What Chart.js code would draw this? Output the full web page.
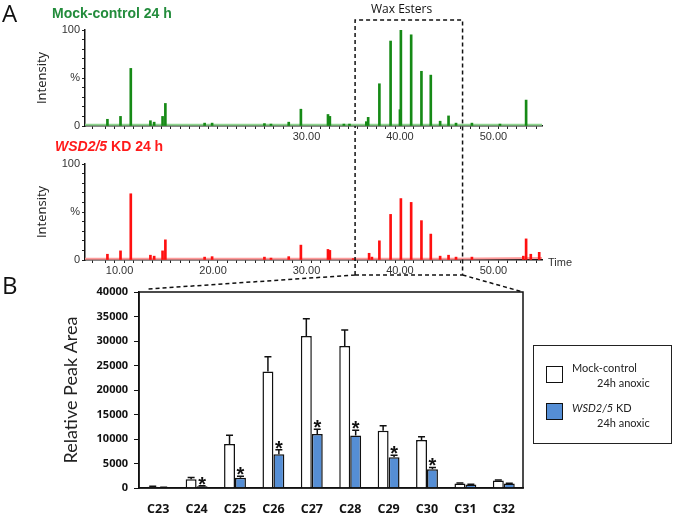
<!DOCTYPE html>
<html>
<head>
<meta charset="utf-8">
<script src="https://cdn.jsdelivr.net/npm/chart.js@4.4.0/dist/chart.umd.min.js"></script>
<style>
body { margin: 0; background: #fff; width: 675px; height: 514px; position: relative; overflow: hidden; font-family: 'Open Sans', sans-serif; color: #111; }
canvas { position: absolute; left: 0; }
.txt { position: absolute; white-space: nowrap; line-height: 1; }
#legend { position: absolute; left: 533px; top: 345px; width: 139px; height: 99px; box-sizing: border-box; border: 1.5px solid #222; font-family: Lato, sans-serif; font-size: 11px; color: #222; }
#legend .sq { position: absolute; left: 12px; width: 17px; height: 17px; box-sizing: border-box; border: 1.5px solid #111; }
</style>
</head>
<body>
<canvas id="chromKD" width="675" height="300" style="top:0"></canvas>
<canvas id="chromMock" width="675" height="150" style="top:0"></canvas>
<canvas id="bars" width="675" height="244" style="top:270px"></canvas>

<div class="txt" style="left:2px;top:1px;font-size:24px">A</div>
<div class="txt" style="left:52px;top:5px;font:bold 14px 'Liberation Sans';color:#238c3c">Mock-control 24 h</div>
<div class="txt" style="left:55px;top:138px;font:bold 14px 'Liberation Sans';color:#ff1a1a"><i>WSD2/5</i> KD 24 h</div>
<div class="txt" style="left:371px;top:3px;font-size:12px">Wax Esters</div>
<div class="txt" style="left:548px;top:256px;font:11px 'Liberation Sans';color:#333">Time</div>
<div class="txt" style="left:2px;top:273px;font-size:24px">B</div>

<div id="legend">
  <div class="sq" style="top:20px;background:#fff"></div>
  <div class="txt" style="left:38px;top:16px">Mock-control</div>
  <div class="txt" style="left:63px;top:31px">24h anoxic</div>
  <div class="sq" style="top:57px;background:#558ed5"></div>
  <div class="txt" style="left:38px;top:56px"><i>WSD2/5</i> KD</div>
  <div class="txt" style="left:63px;top:71px">24h anoxic</div>
</div>

<script>
// chromatograms: retention time (min) and relative intensity (%)
const mockTimes = [8.7, 10.1, 11.2, 13.3, 13.7, 14.6, 14.9, 19.1, 19.9, 25.5, 26.2, 28.1, 29.4, 32.3, 32.5, 34.0, 34.6, 36.4, 36.6, 37.8, 39.0, 40.0, 40.1, 41.2, 42.3, 43.3, 44.3, 45.2, 46.0, 47.7, 50.7, 53.5];
const mockHeights = [7, 10, 60, 5.5, 4, 10, 23.5, 3, 3, 2.5, 2, 4, 17.5, 12, 10, 2, 2, 4.5, 9, 44, 88.5, 17, 100, 95, 57, 53, 5, 10.5, 3, 3, 2, 27];
const kdTimes = [8.7, 10.1, 11.2, 13.3, 13.7, 14.6, 14.9, 19.1, 19.9, 25.5, 26.2, 28.1, 29.4, 32.3, 32.5, 35.0, 36.7, 37.0, 37.8, 39.0, 40.1, 41.2, 42.3, 43.3, 44.3, 45.2, 46.0, 47.7, 53.2, 53.5, 54.0, 54.9];
const kdHeights = [6, 9.5, 69, 5, 4, 9.5, 21, 3, 3.5, 3, 2, 3.5, 15.5, 11, 10, 1.5, 7, 3, 20, 47.5, 64, 60, 41, 27, 4, 5, 3, 3, 4, 22, 6, 8];
const mockBaseTimes = [6.3, 55.2];
const mockBaseLevels = [1.2, 1.2];
const kdBaseTimes = [6.3, 45, 55.2];
const kdBaseLevels = [1.2, 1.2, 2.2];
const timeMin = 6.3, timeMax = 55.2;
const waxStart = 35.2, waxEnd = 46.7;

// panel B: wax ester chain lengths
const chains = ['C23', 'C24', 'C25', 'C26', 'C27', 'C28', 'C29', 'C30', 'C31', 'C32'];
const mockArea = [250, 1800, 9000, 23800, 31000, 29000, 11700, 9800, 900, 1550];
const mockErr = [100, 350, 1750, 3000, 3550, 3250, 1000, 650, 100, 80];
const kdArea = [100, 350, 2100, 6900, 11000, 10700, 6300, 3850, 700, 900];
const kdErr = [50, 100, 300, 900, 1000, 1100, 400, 350, 60, 60];
const significant = [false, true, true, true, true, true, true, true, false, false];

const toPoints = (xs, ys) => xs.map((x, i) => ({ x: x, y: ys[i] }));

function chromOptions(padTop, xHeight, showLabel) {
  return {
    responsive: false,
    animation: false,
    layout: { padding: { left: 34, top: padTop, right: 133, bottom: 0 } },
    plugins: { legend: { display: false }, tooltip: { enabled: false } },
    scales: {
      x: {
        type: 'linear', min: timeMin, max: timeMax, offset: false,
        afterFit: s => { s.height = xHeight; },
        border: { color: '#111', width: 1.5 },
        grid: { drawOnChartArea: false, tickLength: 3, color: '#222' },
        ticks: {
          stepSize: 1, autoSkip: false, maxRotation: 0, padding: 1,
          color: '#333', font: { family: 'Liberation Sans', size: 11 },
          callback: v => (v % 10 === 0 && showLabel(v)) ? v.toFixed(2) : ''
        }
      },
      y: {
        min: 0, max: 100,
        afterFit: s => { s.width = 51; },
        border: { color: '#111', width: 1.5 },
        grid: { drawOnChartArea: false, tickLength: 3, color: '#222' },
        title: { display: true, text: 'Intensity', color: '#222', font: { family: 'Open Sans', size: 13 }, padding: 0 },
        ticks: {
          stepSize: 10, autoSkip: false, padding: 2,
          color: '#333', font: { family: 'Liberation Sans', size: 11 },
          callback: v => v === 100 ? '100' : v === 50 ? '%' : v === 0 ? '0' : ''
        }
      }
    }
  };
}

const waxBox = {
  id: 'waxBox',
  afterDraw(chart) {
    const ctx = chart.ctx;
    const xs = chart.scales.x;
    const l = xs.getPixelForValue(waxStart);
    const r = xs.getPixelForValue(waxEnd);
    ctx.save();
    ctx.setLineDash([4, 3]);
    ctx.lineWidth = 1.5;
    ctx.strokeStyle = '#111';
    ctx.beginPath();
    ctx.moveTo(l, 275); ctx.lineTo(l, 20); ctx.lineTo(r, 20); ctx.lineTo(r, 275); ctx.lineTo(l, 275);
    ctx.moveTo(l, 275); ctx.lineTo(148, 289);
    ctx.moveTo(r, 275); ctx.lineTo(523, 292);
    ctx.stroke();
    ctx.restore();
  }
};

new Chart(document.getElementById('chromMock'), {
  type: 'bar',
  data: {
    datasets: [
      { data: toPoints(mockTimes, mockHeights), backgroundColor: '#168a16', barThickness: 2 },
      { type: 'line', data: toPoints(mockBaseTimes, mockBaseLevels), borderColor: '#8fd48f', borderWidth: 2, pointRadius: 0 }
    ]
  },
  options: chromOptions(30, 24, v => v >= 30)
});

new Chart(document.getElementById('chromKD'), {
  type: 'bar',
  data: {
    datasets: [
      { data: toPoints(kdTimes, kdHeights), backgroundColor: '#ff1010', barThickness: 2 },
      { type: 'line', data: toPoints(kdBaseTimes, kdBaseLevels), borderColor: '#ff9a9a', borderWidth: 2, pointRadius: 0 }
    ]
  },
  options: chromOptions(164, 40, v => true),
  plugins: [waxBox]
});

const errorBars = {
  id: 'errorBars',
  afterDatasetsDraw(chart) {
    const ctx = chart.ctx;
    const y = chart.scales.y;
    const area = chart.chartArea;
    ctx.save();
    ctx.strokeStyle = '#111';
    ctx.lineWidth = 1.5;
    chart.data.datasets.forEach((ds, di) => {
      chart.getDatasetMeta(di).data.forEach((bar, i) => {
        const top = y.getPixelForValue(ds.data[i] + ds.errors[i]);
        ctx.beginPath();
        ctx.moveTo(bar.x, bar.y);
        ctx.lineTo(bar.x, top);
        ctx.moveTo(bar.x - 3.5, top);
        ctx.lineTo(bar.x + 3.5, top);
        ctx.stroke();
        if (ds.stars && ds.stars[i]) {
          ctx.fillStyle = '#111';
          ctx.font = 'bold 20px "Liberation Sans"';
          ctx.textAlign = 'center';
          ctx.textBaseline = 'alphabetic';
          ctx.fillText('*', bar.x, top + 5);
        }
      });
    });
    // frame round the plot
    ctx.strokeRect(area.left, area.top, area.right - area.left, area.bottom - area.top);
    ctx.restore();
  }
};

new Chart(document.getElementById('bars'), {
  type: 'bar',
  data: {
    labels: chains,
    datasets: [
      { label: 'Mock-control 24h anoxic', data: mockArea, errors: mockErr, backgroundColor: '#ffffff', borderColor: '#111', borderWidth: 1.5, categoryPercentage: 0.57, barPercentage: 1 },
      { label: 'WSD2/5 KD 24h anoxic', data: kdArea, errors: kdErr, stars: significant, backgroundColor: '#558ed5', borderColor: '#111', borderWidth: 1.5, categoryPercentage: 0.57, barPercentage: 1 }
    ]
  },
  options: {
    responsive: false,
    animation: false,
    layout: { padding: { left: 60, top: 22, right: 152, bottom: 0 } },
    plugins: { legend: { display: false }, tooltip: { enabled: false } },
    scales: {
      x: {
        afterFit: s => { s.height = 26; },
        border: { color: '#111', width: 1.5 },
        grid: { display: false },
        ticks: { padding: 6, color: '#111', font: { family: 'Open Sans', size: 12.5, weight: 'bold' } }
      },
      y: {
        min: 0, max: 40000,
        afterFit: s => { s.width = 79; },
        border: { color: '#111', width: 1.5 },
        grid: { drawOnChartArea: false, tickLength: 5, color: '#111' },
        title: { display: true, text: 'Relative Peak Area', color: '#222', font: { family: 'Lato', size: 18 }, padding: 0 },
        ticks: { stepSize: 5000, padding: 6, color: '#111', font: { family: 'Open Sans', size: 11, weight: 'bold' }, callback: v => String(v) }
      }
    }
  },
  plugins: [errorBars]
});
</script>
</body>
</html>
